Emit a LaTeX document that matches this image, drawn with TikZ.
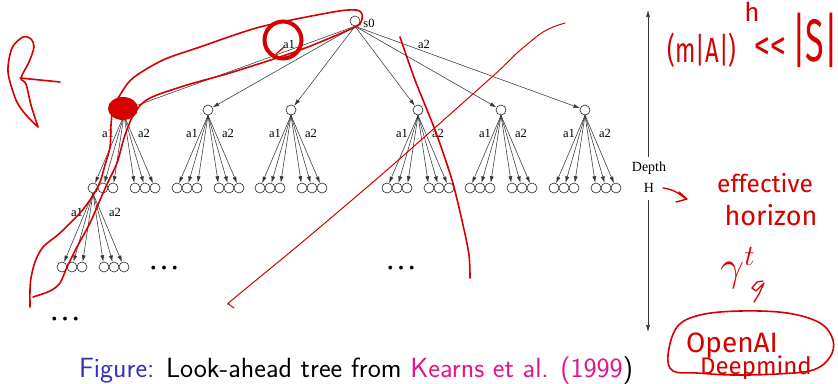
\documentclass[tikz,border=0pt]{standalone}
\usepackage{fontspec}
\setmainfont{Liberation Serif}
\newfontfamily\handfont{Fira Sans}
\usetikzlibrary{arrows.meta}
\definecolor{ink}{RGB}{214,0,0}
\definecolor{figblue}{RGB}{51,51,179}
\definecolor{citemag}{RGB}{228,20,140}
\definecolor{treeline}{RGB}{55,55,55}
\begin{document}
\begin{tikzpicture}[x=1pt,y=-1pt,
  st/.style={circle,draw=black!85,line width=0.6pt,minimum size=10pt,inner sep=0pt,fill=white},
  arr/.style={draw=treeline,line width=0.55pt,-{Latex[length=6.5pt,width=4pt]}},
  darr/.style={draw=treeline,line width=0.55pt,-{Latex[length=7pt,width=4pt]}},
  lab/.style={font=\fontsize{12.5}{12.5}\selectfont,inner sep=0pt},
  dots/.style={font=\fontsize{32}{32}\selectfont,inner sep=0pt,anchor=base},
  redline/.style={draw=ink,line width=1.6pt,line cap=round,line join=round},
  hand/.style={text=ink,inner sep=0pt}
]
\useasboundingbox (0,0) rectangle (838,383);
\fill[white] (0,0) rectangle (838,383);

% ---------- tree ----------
\node[st] (s0) at (355,21) {};
\node[lab] (s0l) at (369,23) {s0};
\node[lab] (ra1) at (289,44) {a1};
\node[lab] (ra2) at (424,44) {a2};

\foreach \i/\x in {1/124,2/208,3/291,4/418,5/501,6/585}{
  \node[st] (n\i) at (\x,110) {};
  \draw[arr] (s0.south) -- (n\i);
  \node[lab] (la\i) at (\x-16,133) {a1};
  \node[lab] (lb\i) at (\x+20,133) {a2};
  \foreach \j/\dx in {1/-31,2/-21,3/-11,4/11,5/21,6/31}{
    \node[st] (c\i\j) at (\x+\dx,188) {};
    \draw[arr] (n\i.south) -- (c\i\j);
  }
}
% third level under the first child
\node[lab] (ma) at (77,212) {a1};
\node[lab] (mb) at (115,212) {a2};
\foreach \j/\dx in {1/-31,2/-21,3/-11,4/11,5/21,6/31}{
  \node[st] (d\j) at (93+\dx,267) {};
  \draw[arr] (c11.south) -- (d\j);
}

\node[dots] (dt1) at (164,269) {…};
\node[dots] (dt2) at (401,269) {…};
\node[dots] (dt3) at (65,320) {…};

% depth arrow
\node[lab,font=\fontsize{14}{14}\selectfont] (dep) at (649,168) {Depth};
\node[lab,font=\fontsize{14}{14}\selectfont] (hh) at (649,188) {H};
\coordinate (dtop) at (648,10);
\coordinate (dtb) at (648,157);
\coordinate (dbt) at (648,200);
\coordinate (dbot) at (648,332);
\draw[darr] (dtb) -- (dtop);
\draw[darr] (dbt) -- (dbot);

% caption
\node[font=\sffamily\fontsize{27.8}{27.8}\selectfont,inner sep=0pt,anchor=base] (cap) at (356,377)
  {\textcolor{figblue}{Figure:} Look-ahead tree from \textcolor{citemag}{Kearns et al. (1999})};

% ---------- red annotations ----------
\fill[ink] (123,108.5) ellipse [x radius=15pt, y radius=11.5pt];
\draw[ink,line width=4pt] (283,40) circle [radius=18.5pt];
\draw[ink,line width=1.2pt,line cap=round] (284,47) -- (276,54);

\draw[redline] plot[smooth,tension=0.5] coordinates {
 (30,307) (30,290) (31,278) (35,262) (43,247) (60,233) (80,213) (92,197) (100,182)
 (105,165) (110,147) (111,125) (113,110) (120,95) (133,78) (163,60) (200,47) (260,27)
 (333,12) (356,10) (362,14) (361,22) (353,28) (300,50) (233,72) (187,85) (150,98)
 (135,112) (125,135) (117,163) (108,182) (100,200) (90,223) (77,247) (67,267) (60,283)
 (50,291) (33,297)};

\draw[redline] plot[smooth,tension=0.5] coordinates {
 (400,37) (415,80) (435,130) (452,180) (463,225) (469,255) (470,278)};

\draw[ink,line width=1pt,line cap=round,line join=round] plot[smooth,tension=0.4] coordinates {
 (234,308) (229,304) (232,300) (300,244) (387,170) (493,76) (517,53) (540,34) (553,27) (565,23)};

% left "R" scribble
\draw[redline] plot[smooth,tension=0.5] coordinates {
 (38,127) (31,105) (26,84) (21,78) (29,62) (34,47) (31,39) (23,37) (12,48) (8,72)
 (16,100) (26,115) (38,127)};
\draw[redline] (20,78) -- (60,82);

% H arrow
\draw[redline,line width=1.4pt] (663,188) .. controls (672,189) and (679,193) .. (686,199);
\draw[redline,line width=1.4pt] (679,192) -- (687,199) -- (676,202);

% handwritten texts
\node[hand,font=\handfont\fontsize{28}{28}\selectfont] (hA) at (702,50) {\scalebox{0.85}[1.25]{(m|A|)}};
\node[hand,font=\handfont\fontsize{26}{26}\selectfont] (hh2) at (752,12) {h};
\node[hand,font=\handfont\fontsize{40}{40}\selectfont] (hll) at (770,48) {\scalebox{0.8}[1]{<<}};
\node[hand,font=\handfont\fontsize{50}{50}\selectfont] (hS) at (815,40) {\scalebox{0.68}[1.2]{|S|}};
\node[hand,font=\handfont\fontsize{24.5}{24.5}\selectfont] (heff) at (765,183) {effective};
\node[hand,font=\handfont\fontsize{27}{27}\selectfont] (hhor) at (771,215) {horizon};
\node[hand] (hgam) at (738,268) {\scalebox{1.7}{\fontsize{24}{24}\selectfont$\gamma^{t}$}};
\draw[ink,line width=1.3pt,line cap=round,line join=round] (763,281) -- (757,282) -- (752,288) -- (756,291) -- (764,283) -- (759,294) -- (754,302);
\node[hand,font=\handfont\fontsize{28}{28}\selectfont] (hoa) at (732,346) {OpenAI};
\node[hand,font=\handfont\fontsize{24}{24}\selectfont] (hdm) at (756,368) {Deepmind};
\draw[redline] plot[smooth cycle,tension=0.6] coordinates {
 (668,355) (677,327) (700,315) (740,311) (787,313) (820,323) (833,340) (830,357)
 (813,370) (777,374) (733,375) (697,373) (673,371)};
\end{tikzpicture}
\end{document}
